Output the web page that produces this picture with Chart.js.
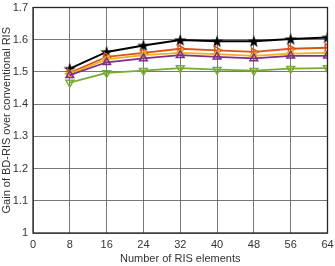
<!DOCTYPE html>
<html lang="en">
<head>
<meta charset="UTF-8">
<title>BD-RIS gain</title>
<script src="https://cdn.jsdelivr.net/npm/chart.js"></script>
<style>
    body { margin: 0; background: #fff; }
    #wrap { width: 335px; height: 266px; }
</style>
</head>
<body>
<div id="wrap"><canvas id="gainChart" width="335" height="266"></canvas></div>
<script>
// RIS element counts
const elements = [8, 16, 24, 32, 40, 48, 56, 64];

// gain curves
const gainBlack  = [1.510, 1.562, 1.582, 1.599, 1.595, 1.595, 1.602, 1.607];
const gainOrange = [1.497, 1.547, 1.559, 1.572, 1.567, 1.562, 1.572, 1.575];
const gainYellow = [1.494, 1.539, 1.552, 1.559, 1.555, 1.550, 1.557, 1.559];
const gainPurple = [1.490, 1.530, 1.542, 1.552, 1.547, 1.542, 1.550, 1.550];
const gainGreen  = [1.467, 1.497, 1.504, 1.512, 1.507, 1.504, 1.510, 1.512];

const xTicks = [0, 8, 16, 24, 32, 40, 48, 56, 64];
const yTicks = [1, 1.1, 1.2, 1.3, 1.4, 1.5, 1.6, 1.7];

function starImage(color) {
    const c = document.createElement('canvas');
    c.width = 14; c.height = 14;
    const g = c.getContext('2d');
    g.fillStyle = color;
    g.beginPath();
    for (let i = 0; i < 10; i++) {
        const r = i % 2 === 0 ? 6.5 : 2.6;
        const a = -Math.PI / 2 + i * Math.PI / 5;
        g.lineTo(7 + r * Math.cos(a), 7.5 + r * Math.sin(a));
    }
    g.closePath();
    g.fill();
    return c;
}

function series(vals, color, style, rot) {
    return {
        data: elements.map((x, i) => ({ x: x, y: vals[i] })),
        borderColor: color,
        backgroundColor: color,
        pointBackgroundColor: 'rgba(0,0,0,0)',
        pointBorderColor: color,
        pointStyle: style,
        pointRotation: rot || 0,
        pointRadius: 4.5,
        pointBorderWidth: 1.5,
        borderWidth: 1.8,
        showLine: true,
        tension: 0
    };
}

const frame = {
    id: 'frame',
    afterDraw(chart) {
        const a = chart.chartArea, ctx = chart.ctx;
        ctx.save();
        ctx.strokeStyle = '#262626';
        ctx.lineWidth = 1.3;
        ctx.strokeRect(a.left, a.top, a.right - a.left, a.bottom - a.top);
        ctx.restore();
    }
};

Chart.defaults.font.family = '"Liberation Sans", Arial, sans-serif';
Chart.defaults.font.size = 11;
Chart.defaults.color = '#333';

new Chart(document.getElementById('gainChart'), {
    type: 'scatter',
    data: {
        datasets: [
            series(gainGreen, '#77AC30', 'triangle', 180),
            series(gainPurple, '#7E2F8E', 'triangle', 0),
            series(gainYellow, '#EDB120', 'triangle', -90),
            series(gainOrange, '#D95319', 'triangle', 90),
            Object.assign(series(gainBlack, '#000000', starImage('#000000'), 0), { pointRadius: 6, borderWidth: 2 })
        ]
    },
    options: {
        responsive: false,
        animation: false,
        layout: { padding: { top: 4, right: 7, left: 0, bottom: 0 } },
        plugins: { legend: { display: false }, tooltip: { enabled: false } },
        scales: {
            x: {
                type: 'linear',
                min: 0, max: 64,
                afterBuildTicks: axis => { axis.ticks = xTicks.map(v => ({ value: v })); },
                afterFit: axis => { axis.height = 33; axis.paddingLeft = 0; axis.paddingRight = 0; },
                ticks: { padding: 5, callback: v => v },
                grid: { color: '#555', lineWidth: 0.8, borderDash: [1, 2], drawTicks: false },
                border: { display: false },
                title: { display: true, text: 'Number of RIS elements', padding: { top: 2, bottom: 0 }, font: { size: 11 } }
            },
            y: {
                min: 1, max: 1.7,
                afterBuildTicks: axis => { axis.ticks = yTicks.map(v => ({ value: v })); },
                afterFit: axis => { axis.width = 33; axis.paddingTop = 0; axis.paddingBottom = 0; },
                ticks: { padding: 5, callback: v => +v.toFixed(1) },
                grid: { color: '#555', lineWidth: 0.8, borderDash: [1, 2], drawTicks: false },
                border: { display: false },
                title: { display: true, text: 'Gain of BD-RIS over conventional RIS', padding: { top: 0, bottom: 2 }, font: { size: 11 } }
            }
        }
    },
    plugins: [frame]
});
</script>
</body>
</html>
